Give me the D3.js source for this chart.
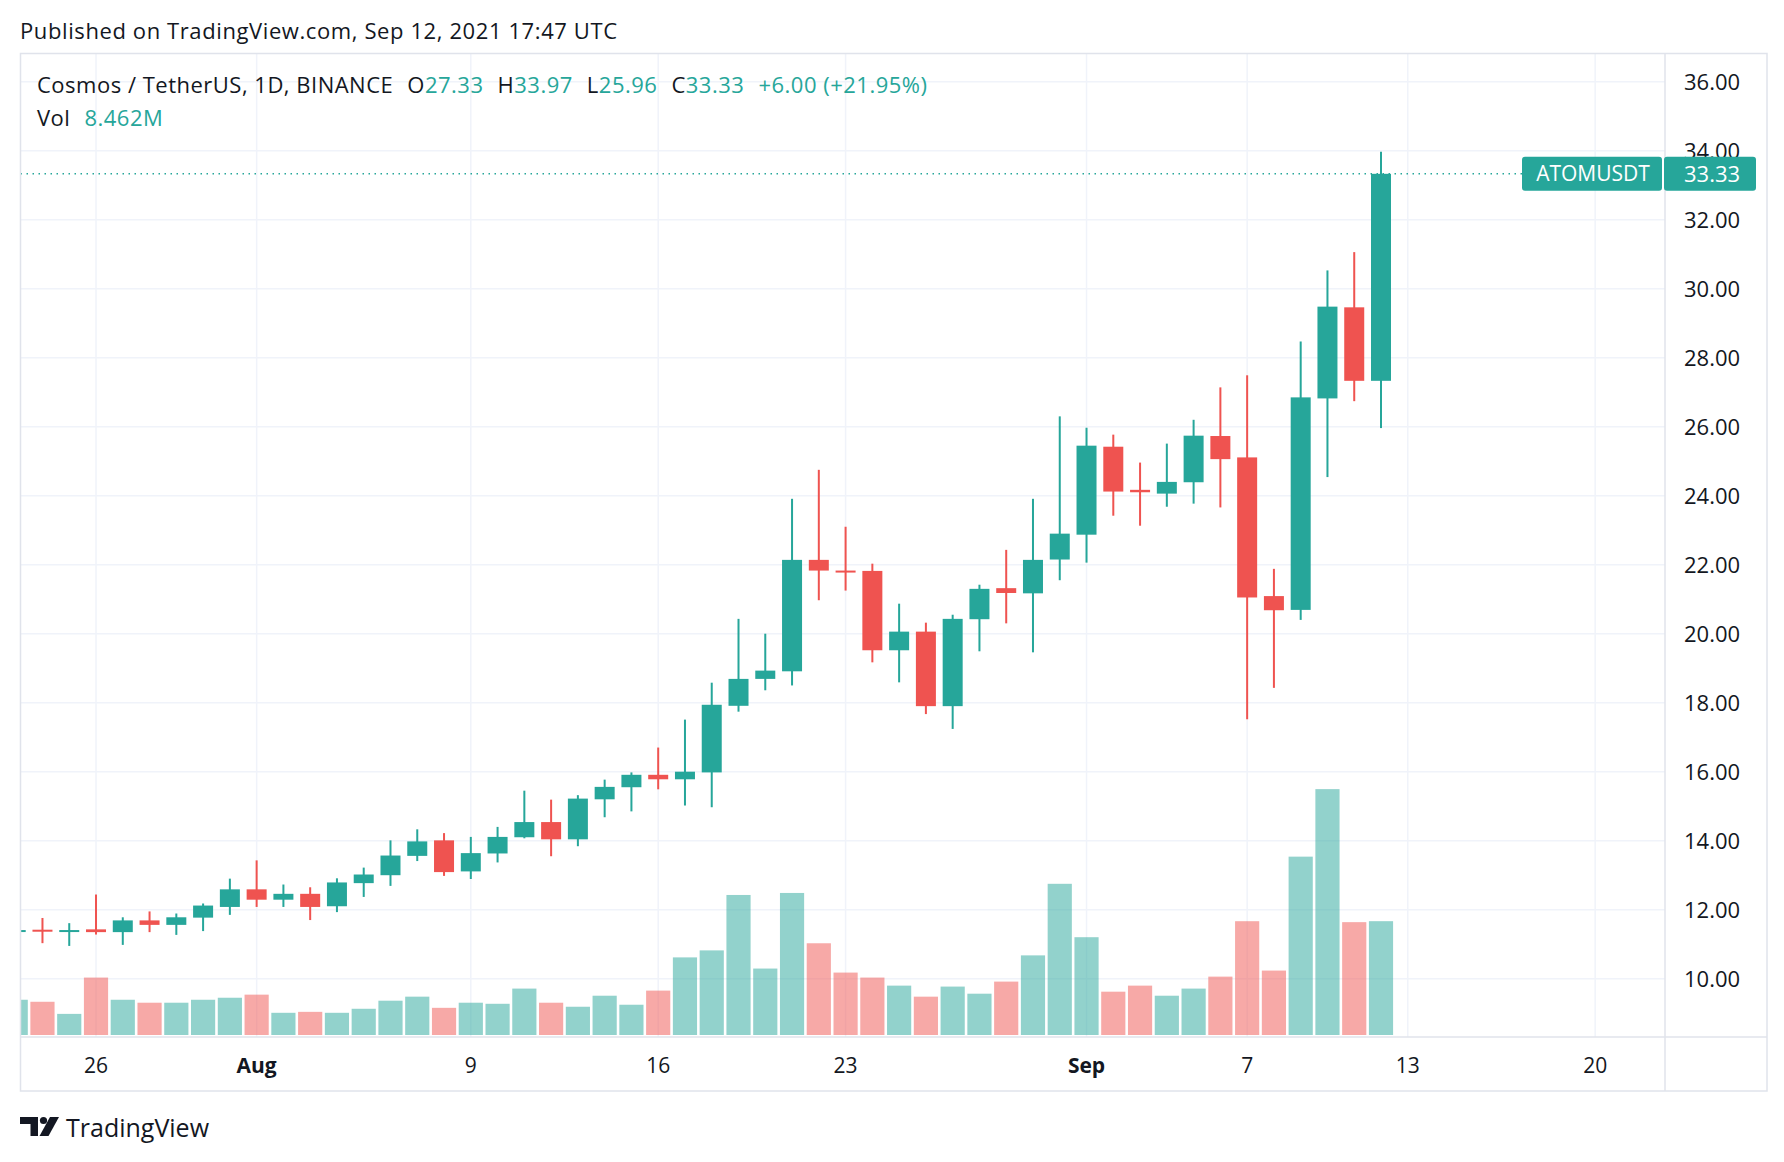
<!DOCTYPE html>
<html lang="en">
<head>
    <meta charset="UTF-8">
    <title>ATOMUSDT</title>
    <script src="https://d3js.org/d3.v7.min.js"></script>
    <style>
        body { margin: 0; background: #fff; }
        text { font-family: "Open Sans", "Liberation Sans", Arial, sans-serif; fill: #131722; }
    </style>
</head>
<body>
    <svg id="chart" width="1784" height="1162"></svg>
</body>
<script>
    // daily candles, Binance ATOM/USDT
    let dates = ['2021-07-23','2021-07-24','2021-07-25','2021-07-26','2021-07-27','2021-07-28','2021-07-29','2021-07-30','2021-07-31',
        '2021-08-01','2021-08-02','2021-08-03','2021-08-04','2021-08-05','2021-08-06','2021-08-07','2021-08-08','2021-08-09','2021-08-10',
        '2021-08-11','2021-08-12','2021-08-13','2021-08-14','2021-08-15','2021-08-16','2021-08-17','2021-08-18','2021-08-19','2021-08-20',
        '2021-08-21','2021-08-22','2021-08-23','2021-08-24','2021-08-25','2021-08-26','2021-08-27','2021-08-28','2021-08-29','2021-08-30',
        '2021-08-31','2021-09-01','2021-09-02','2021-09-03','2021-09-04','2021-09-05','2021-09-06','2021-09-07','2021-09-08','2021-09-09',
        '2021-09-10','2021-09-11','2021-09-12']
    let opens = [11.38,11.42,11.38,11.43,11.35,11.69,11.56,11.77,12.08,12.59,12.29,12.46,12.10,12.77,13.00,13.56,14.01,13.11,13.63,
        14.10,14.54,14.04,15.20,15.55,15.91,15.78,15.98,17.91,18.69,18.91,22.14,21.83,21.82,19.52,20.06,17.90,20.42,21.32,21.17,
        22.15,22.87,25.42,24.17,24.06,24.39,25.73,25.11,21.09,20.69,26.82,29.46,27.33]
    let highs = [11.45,11.76,11.61,12.44,11.78,11.95,11.89,12.18,12.90,13.43,12.73,12.65,12.91,13.22,14.01,14.33,14.22,14.11,14.40,
        15.45,15.19,15.32,15.77,15.98,16.70,17.51,18.58,20.43,20.00,23.91,24.75,23.10,22.03,20.87,20.32,20.55,21.42,22.43,23.91,
        26.30,25.97,25.77,24.96,25.51,26.20,27.14,27.49,21.88,28.47,30.53,31.06,33.97]
    let lows = [11.33,11.03,10.95,11.28,10.98,11.35,11.27,11.38,11.85,12.08,12.08,11.70,11.93,12.37,12.69,13.41,12.98,12.89,13.37,
        14.07,13.55,13.84,14.68,14.85,15.49,15.02,14.97,17.74,18.36,18.50,20.97,21.25,19.17,18.59,17.67,17.24,19.49,20.30,19.46,
        21.55,22.06,23.42,23.13,23.68,23.77,23.66,17.52,18.43,20.40,24.54,26.74,25.96]
    let closes = [11.41,11.38,11.41,11.35,11.69,11.56,11.78,12.12,12.59,12.29,12.46,12.08,12.79,13.02,13.57,13.98,13.09,13.64,14.11,
        14.54,14.04,15.22,15.56,15.91,15.78,16.00,17.94,18.69,18.93,22.14,21.83,21.79,19.52,20.06,17.90,20.43,21.30,21.18,22.14,
        22.90,25.45,24.12,24.10,24.40,25.74,25.06,21.05,20.68,26.85,29.48,27.33,33.33]
    // volume in millions
    let volumes = [2.62,2.47,1.57,4.27,2.62,2.40,2.40,2.62,2.77,3.00,1.65,1.72,1.65,1.95,2.55,2.85,2.02,2.40,2.32,
        3.45,2.40,2.10,2.92,2.25,3.30,5.77,6.29,10.41,4.94,10.56,6.82,4.64,4.27,3.67,2.85,3.60,3.07,3.97,5.92,
        11.24,7.27,3.22,3.67,2.92,3.45,4.34,8.46,4.79,13.26,18.28,8.39,8.462]

    let priceTicks = [10,12,14,16,18,20,22,24,26,28,30,32,34,36]
    let timeTicks = ['2021-07-26','2021-08-01','2021-08-09','2021-08-16','2021-08-23','2021-09-01','2021-09-07','2021-09-13','2021-09-20']
    let timeLabels = ['26','Aug','9','16','23','Sep','7','13','20']

    let up = '#26a69a', down = '#ef5350'
    let upVol = 'rgba(38,166,154,0.5)', downVol = 'rgba(239,83,80,0.5)'
    let gridColor = '#f0f3fa', borderColor = '#e0e3eb'

    let parse = d3.timeParse('%Y-%m-%d')
    let data = dates.map((d, i) => ({
        date: parse(d), open: opens[i], high: highs[i], low: lows[i], close: closes[i], vol: volumes[i]
    }))
    let last = data[data.length - 1]

    // layout
    let paneLeft = 20.5, paneTop = 53.5, paneRight = 1665, frameRight = 1767, paneBottom = 1037, frameBottom = 1091

    let x = d3.scaleTime()
        .domain([parse('2021-07-23'), parse('2021-09-12')])
        .range([15.7, 1381])
    let y = d3.scaleLinear().domain([10, 36]).range([978.7, 81.7])
    let yVol = d3.scaleLinear()
        .domain([0, d3.max(volumes)])
        .range([paneBottom - 2, paneBottom - 2 - 0.25 * (paneBottom - paneTop)])

    let step = x(parse('2021-07-24')) - x(parse('2021-07-23'))
    let bodyW = Math.round(step * 0.75)

    let svg = d3.select('#chart')

    svg.append('defs').append('clipPath').attr('id', 'pane')
        .append('rect')
        .attr('x', paneLeft).attr('y', paneTop)
        .attr('width', paneRight - paneLeft).attr('height', paneBottom - paneTop)

    // grid
    let grid = svg.append('g')
    grid.selectAll('line.h')
        .data(priceTicks)
        .join('line')
        .attr('x1', paneLeft).attr('x2', paneRight)
        .attr('y1', d => y(d)).attr('y2', d => y(d))
        .attr('stroke', gridColor).attr('stroke-width', 1.5)
    grid.selectAll('line.v')
        .data(timeTicks)
        .join('line')
        .attr('x1', d => x(parse(d))).attr('x2', d => x(parse(d)))
        .attr('y1', paneTop).attr('y2', paneBottom)
        .attr('stroke', gridColor).attr('stroke-width', 1.5)

    let pane = svg.append('g').attr('clip-path', 'url(#pane)')

    // volume
    pane.selectAll('rect.vol')
        .data(data)
        .join('rect')
        .attr('x', d => x(d.date) - (step - 2.6) / 2)
        .attr('width', step - 2.6)
        .attr('y', d => yVol(d.vol))
        .attr('height', d => yVol(0) - yVol(d.vol))
        .attr('fill', d => d.close >= d.open ? upVol : downVol)

    // last price line
    pane.append('line')
        .attr('x1', paneLeft).attr('x2', 1522)
        .attr('y1', y(last.close)).attr('y2', y(last.close))
        .attr('stroke', up).attr('stroke-width', 1.5)
        .attr('stroke-dasharray', '1.5,4.5')

    // candles
    let candle = pane.selectAll('g.candle')
        .data(data)
        .join('g')
        .attr('fill', d => d.close >= d.open ? up : down)
    candle.append('rect')
        .attr('x', d => x(d.date) - 1)
        .attr('width', 2)
        .attr('y', d => y(d.high))
        .attr('height', d => y(d.low) - y(d.high))
    candle.append('rect')
        .attr('x', d => x(d.date) - bodyW / 2)
        .attr('width', bodyW)
        .attr('y', d => y(Math.max(d.open, d.close)))
        .attr('height', d => Math.max(2, Math.abs(y(d.open) - y(d.close))))

    // frame
    let frame = svg.append('g').attr('stroke', borderColor).attr('stroke-width', 1.5).attr('fill', 'none')
    frame.append('rect').attr('x', paneLeft).attr('y', paneTop)
        .attr('width', frameRight - paneLeft).attr('height', frameBottom - paneTop)
    frame.append('line').attr('x1', paneRight).attr('x2', paneRight).attr('y1', paneTop).attr('y2', frameBottom)
    frame.append('line').attr('x1', paneLeft).attr('x2', frameRight).attr('y1', paneBottom).attr('y2', paneBottom)

    // price axis
    svg.append('g').selectAll('text')
        .data(priceTicks)
        .join('text')
        .attr('x', 1684)
        .attr('y', d => y(d))
        .attr('dy', '0.36em')
        .attr('font-size', 22)
        .text(d => d.toFixed(2))

    // time axis
    svg.append('g').selectAll('text')
        .data(timeTicks)
        .join('text')
        .attr('x', d => x(parse(d)))
        .attr('y', 1065)
        .attr('dy', '0.36em')
        .attr('text-anchor', 'middle')
        .attr('font-size', 21)
        .attr('font-weight', (d, i) => isNaN(+timeLabels[i]) ? 'bold' : 'normal')
        .text((d, i) => timeLabels[i])

    // last price labels
    let tag = svg.append('g')
    tag.append('rect').attr('x', 1522).attr('y', y(last.close) - 17).attr('width', 140).attr('height', 34)
        .attr('rx', 3).attr('fill', up)
    tag.append('rect').attr('x', 1664).attr('y', y(last.close) - 17).attr('width', 92).attr('height', 34)
        .attr('rx', 3).attr('fill', up)
    tag.append('text').attr('x', 1593).attr('y', y(last.close)).attr('dy', '0.36em')
        .attr('text-anchor', 'middle').attr('font-size', 21).style('fill', '#fff').text('ATOMUSDT')
    tag.append('text').attr('x', 1684).attr('y', y(last.close)).attr('dy', '0.36em')
        .attr('font-size', 22).style('fill', '#fff').text(last.close.toFixed(2))

    // header
    svg.append('text').attr('x', 20).attr('y', 31).attr('dy', '0.36em').attr('font-size', 22)
        .attr('letter-spacing', 0.6)
        .text('Published on TradingView.com, Sep 12, 2021 17:47 UTC')

    let change = last.close - last.open
    let legend = svg.append('text').attr('x', 37).attr('y', 85).attr('dy', '0.36em')
        .attr('font-size', 22).attr('letter-spacing', 0.5)
    legend.append('tspan').text('Cosmos / TetherUS, 1D, BINANCE')
    let fields = [['O', last.open], ['H', last.high], ['L', last.low], ['C', last.close]]
    fields.forEach(f => {
        legend.append('tspan').attr('dx', 14).text(f[0])
        legend.append('tspan').style('fill', up).text(f[1].toFixed(2))
    })
    legend.append('tspan').attr('dx', 14).style('fill', up)
        .text('+' + change.toFixed(2) + ' (+' + (change / last.open * 100).toFixed(2) + '%)')

    let volLegend = svg.append('text').attr('x', 37).attr('y', 118).attr('dy', '0.36em')
        .attr('font-size', 22).attr('letter-spacing', 0.5)
    volLegend.append('tspan').text('Vol')
    volLegend.append('tspan').attr('dx', 14).style('fill', up).text(last.vol.toFixed(3) + 'M')

    // footer logo
    let logo = svg.append('g').attr('fill', '#131722')
    logo.append('path').attr('d', 'M20,1117 H38 V1136 H30.5 V1124 H20 Z')
    logo.append('circle').attr('cx', 43.5).attr('cy', 1120.5).attr('r', 3.6)
    logo.append('path').attr('d', 'M50,1117 H59 L48.5,1136 H39.5 Z')
    svg.append('text').attr('x', 66).attr('y', 1127.5).attr('dy', '0.36em').attr('font-size', 25)
        .text('TradingView')
</script>
</html>
